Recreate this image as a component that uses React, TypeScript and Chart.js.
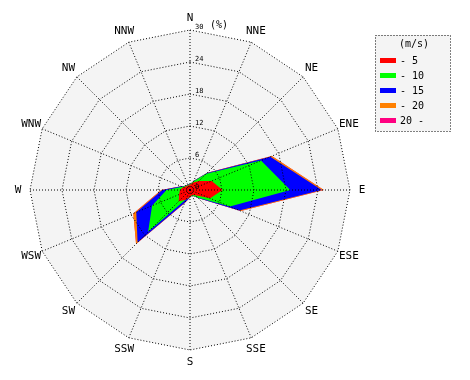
import React, { useEffect, useRef } from "react";
import { Chart, registerables } from "chart.js";

Chart.register(...registerables);

// 16 compass directions, clockwise from north
const directions = [
  "N", "NNE", "NE", "ENE", "E", "ESE", "SE", "SSE",
  "S", "SSW", "SW", "WSW", "W", "WNW", "NW", "NNW",
];

// Radial axis (frequency, %)
const maxPercent = 30;
const tickStep = 6;
const axisUnit = "(%)";

// Wind-speed classes (m/s) and legend title
const legendTitle = "(m/s)";
const speedClasses = ["- 5", "- 10", "- 15", "- 20", "20 -"];

// Cumulative frequency (%) per direction
const upTo5 = [1.0, 1.5, 2.4, 4.4, 6.1, 4.1, 1.4, 1.0, 1.3, 2.0, 3.0, 2.2, 1.9, 1.4, 1.0, 0.9];
const upTo10 = [1.1, 1.8, 4.3, 14.4, 18.8, 8.1, 2.0, 1.1, 1.4, 1.9, 11.1, 7.7, 4.4, 1.6, 1.1, 1.0];
const upTo15 = [1.1, 1.9, 4.5, 16.3, 24.7, 10.0, 2.1, 1.1, 1.4, 2.6, 13.9, 10.9, 5.2, 1.8, 1.1, 1.1];
const upTo20 = [1.1, 1.9, 4.6, 16.6, 25.1, 10.3, 2.1, 1.1, 1.4, 2.7, 14.3, 11.5, 5.4, 1.8, 1.1, 1.1];
const allSpeeds = [1.1, 1.9, 4.6, 16.6, 25.1, 10.3, 2.1, 1.1, 1.4, 2.7, 14.3, 11.5, 5.4, 1.8, 1.1, 1.1];

const cumulativeSeries = [upTo5, upTo10, upTo15, upTo20, allSpeeds];
const classColors = ["#ff0000", "#00ff00", "#0000ff", "#ff8000", "#ff0080"];

const MONO = '"DejaVu Sans Mono", "Liberation Mono", monospace';

const decorPlugin = {
  id: "roseDecor",
  beforeDatasetsDraw(chart: any) {
    const s = chart.scales.r;
    const ctx = chart.ctx;
    ctx.save();
    ctx.beginPath();
    for (let i = 0; i < directions.length; i++) {
      const p = s.getPointPosition(i, s.drawingArea);
      if (i === 0) ctx.moveTo(p.x, p.y);
      else ctx.lineTo(p.x, p.y);
    }
    ctx.closePath();
    ctx.fillStyle = "#f4f4f4";
    ctx.fill();
    ctx.restore();
  },
  afterDraw(chart: any) {
    const s = chart.scales.r;
    const ctx = chart.ctx;
    ctx.save();
    ctx.fillStyle = "#000";
    // direction labels
    ctx.font = `11px ${MONO}`;
    ctx.textAlign = "center";
    ctx.textBaseline = "middle";
    directions.forEach((d, i) => {
      const p = s.getPointPosition(i, s.drawingArea + 12);
      ctx.fillText(d, p.x, p.y);
    });
    // tick labels, just right of the north axis
    ctx.textAlign = "left";
    s.ticks.forEach((t: any) => {
      const dist = s.getDistanceFromCenterForValue(t.value);
      const y = s.yCenter - dist - 3;
      ctx.font = `7px ${MONO}`;
      ctx.fillText(String(t.label), s.xCenter + 5, y);
      if (t.value === maxPercent) {
        ctx.font = `10px ${MONO}`;
        ctx.fillText(axisUnit, s.xCenter + 20, y - 2);
      }
    });
    // legend
    const lx = 375, ly = 35, lw = 75, lh = 96;
    ctx.fillStyle = "#f4f4f4";
    ctx.fillRect(lx, ly, lw, lh);
    ctx.strokeStyle = "#000";
    ctx.lineWidth = 1;
    ctx.setLineDash([1, 2]);
    ctx.strokeRect(lx + 0.5, ly + 0.5, lw, lh);
    ctx.setLineDash([]);
    ctx.fillStyle = "#000";
    ctx.font = `10px ${MONO}`;
    ctx.textAlign = "center";
    ctx.fillText(legendTitle, 414, 44);
    ctx.textAlign = "left";
    speedClasses.forEach((c, i) => {
      const y = 60 + i * 15;
      ctx.fillStyle = classColors[i];
      ctx.fillRect(380, y - 2, 16, 5);
      ctx.fillStyle = "#000";
      ctx.fillText(c, 400, y + 1);
    });
    ctx.restore();
  },
};

export default function App() {
  const ref = useRef<HTMLCanvasElement>(null);
  useEffect(() => {
    if (!ref.current) return;
    const datasets = cumulativeSeries.map((vals, i) => ({
      label: speedClasses[i],
      data: vals,
      backgroundColor: classColors[i],
      borderColor: "rgba(0,0,0,0)",
      borderWidth: 0,
      pointRadius: 0,
      pointHoverRadius: 0,
      fill: "origin",
      tension: 0,
    }));
    const chart = new Chart(ref.current, {
      type: "radar",
      data: { labels: directions, datasets },
      options: {
        animation: false,
        responsive: false,
        layout: { padding: { left: 30, top: 30, right: 120, bottom: 30 } },
        plugins: { legend: { display: false }, tooltip: { enabled: false } },
        scales: {
          r: {
            min: 0,
            max: maxPercent,
            ticks: { stepSize: tickStep, display: false },
            pointLabels: { display: false },
            grid: { color: "#000", lineWidth: 1, circular: false, z: 1 },
            border: { dash: [1, 2] },
            angleLines: { color: "#000", lineWidth: 1, borderDash: [1, 2] },
          },
        },
      },
      plugins: [decorPlugin],
    } as any);
    return () => chart.destroy();
  }, []);
  return (
    <div style={{ position: "absolute", left: 0, top: 0, width: 470, height: 380, background: "#fff" }}>
      <canvas ref={ref} width={470} height={380} style={{ display: "block" }} />
    </div>
  );
}
